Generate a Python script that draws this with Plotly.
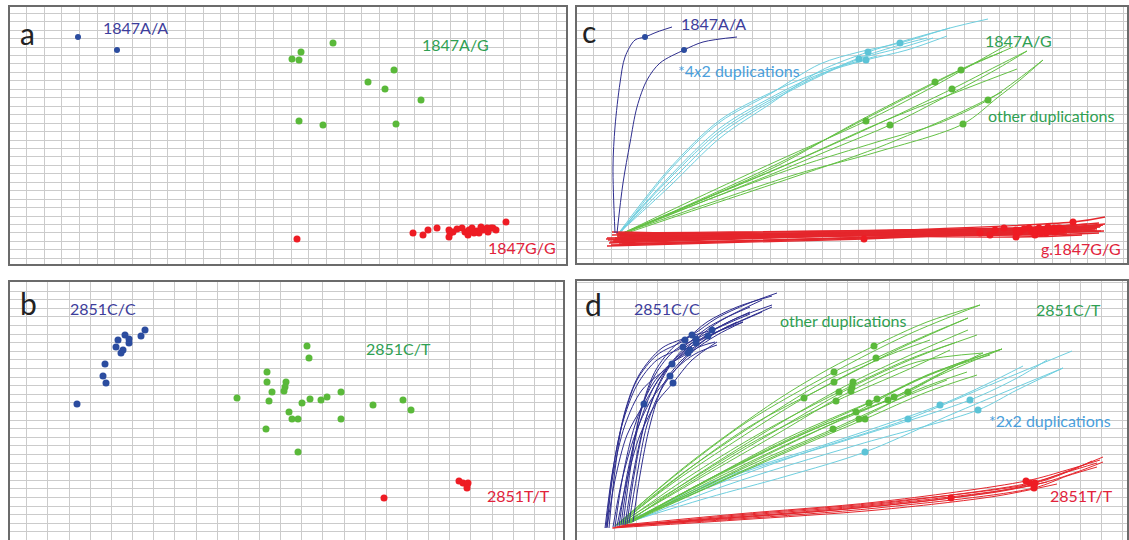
import plotly.graph_objects as go

W, H = 1129, 540

# ================= 1847 genotypes (panels a and c, shared signal units) =================
aa_x = [68, 107]
aa_y = [227, 214]
ag_dup_x = [282, 289, 291, 323]
ag_dup_y = [205, 204, 212, 221]
ag_oth_x = [358, 384, 375, 411, 289, 313, 386]
ag_oth_y = [182, 194, 175, 164, 143, 139, 140]
gg_x = [287, 403, 413, 418, 427, 439, 440, 439, 443, 452, 455, 458, 459, 462, 467, 469, 473, 477, 478, 481, 483, 496, 447, 464, 486, 471]
gg_y = [25, 31, 29, 34, 36, 34, 31, 27, 32, 36, 32, 29, 34, 36, 33, 31, 34, 36, 32, 36, 36, 42, 35, 31, 34, 37]

# amplification paths (points read before / after each end-point dot)
aa_pre = [[(38, 31), (36, 97), (38, 137), (43, 181), (48, 207), (58, 224)],
          [(40, 31), (46, 81), (53, 121), (60, 157), (70, 184), (83, 201)]]
aa_post = [[(80, 232), (95, 237)],
           [(126, 222), (160, 227)]]
ag_dup_pre = [[(41, 30), (93, 82), (143, 130), (193, 162), (243, 188)],
              [(40, 29), (93, 88), (143, 136), (193, 166), (243, 190)],
              [(41, 30), (93, 78), (143, 126), (193, 160), (243, 193)],
              [(42, 29), (93, 94), (143, 142), (193, 170), (243, 200), (282, 212)]]
ag_dup_post = [[(323, 216), (356, 226)],
               [(330, 214), (370, 228)],
               [(330, 224), (373, 236)],
               [(373, 236), (411, 245)]]
ag_dup_extra = [[(41, 30), (93, 96), (143, 144), (193, 171), (243, 192), (282, 203), (300, 208)],
                [(40, 29), (93, 86), (143, 133), (193, 164), (243, 189), (282, 206), (323, 219), (350, 226)]]
ag_oth_pre = [[(40, 28), (120, 62), (200, 98), (280, 142)],
              [(41, 28), (120, 63), (200, 100), (290, 146)],
              [(41, 29), (120, 62), (200, 95), (290, 135)],
              [(41, 29), (130, 64), (220, 97), (300, 122), (360, 140)],
              [(40, 28), (120, 66), (200, 103)],
              [(40, 28), (120, 60), (200, 92), (260, 117)],
              [(41, 29), (130, 60), (220, 90), (300, 112)]]
ag_oth_post = [[(400, 202), (425, 212)],
               [(420, 210), (436, 217)],
               [(420, 198), (450, 213)],
               [(440, 184), (466, 204)],
               [(350, 174), (405, 205), (430, 219)],
               [(370, 168), (420, 195), (450, 213)],
               [(420, 166), (443, 184), (466, 204)]]
ag_oth_extra = [[(40, 28), (130, 66), (220, 104), (300, 140), (380, 172), (440, 195)],
                [(41, 28), (130, 58), (220, 88), (300, 116), (380, 150), (425, 172)]]
gg_start = [(30, 18), (36, 24), (40, 28), (33, 22), (42, 30), (38, 26), (45, 20), (35, 32), (29, 25),
            (41, 27), (37, 23), (44, 29), (32, 21), (39, 31), (46, 26), (34, 19), (43, 28), (31, 24),
            (40, 30), (36, 22), (47, 27), (38, 25), (35, 29), (42, 20), (30, 26), (44, 23)]
gg_end = [(505, 34), (478, 34), (490, 31), (495, 38), (500, 39), (512, 37), (515, 33), (505, 29), (520, 36),
          (510, 40), (518, 35), (522, 31), (516, 37), (525, 39), (520, 36), (527, 33), (523, 37), (528, 40),
          (520, 34), (526, 39), (524, 38), (528, 47), (518, 38), (524, 33), (515, 36), (522, 41)]

# ================= 2851 genotypes (panels b and d) =================
cc_x = [67, 93, 96, 95, 106, 108, 111, 113, 115, 119, 119, 131, 135]
cc_y = [136, 164, 157, 176, 193, 200, 187, 190, 205, 201, 197, 204, 210]
ct_oth_x = [227, 257, 257, 262, 259, 256, 276, 275, 274, 279, 282, 288, 297, 299, 292, 300, 311, 317, 331]
ct_oth_y = [142, 168, 158, 148, 139, 111, 158, 153, 149, 128, 121, 121, 194, 182, 137, 141, 140, 143, 148]
ct_dup_x = [288, 331, 363, 393, 401]
ct_dup_y = [88, 121, 135, 140, 130]
tt_x = [374, 449, 453, 457, 458, 457]
tt_y = [42, 59, 57, 55, 57, 52]

cc_pre = [[(30, 12), (38, 60), (50, 105)],
          [(36, 13), (45, 60), (58, 105), (74, 140)],
          [(40, 14), (50, 60), (63, 105), (80, 138)],
          [(30, 13), (36, 65), (48, 115), (65, 150)],
          [(28, 12), (35, 65), (45, 115), (60, 155), (80, 180)],
          [(29, 12), (36, 70), (46, 120), (60, 160), (80, 185)],
          [(38, 13), (46, 65), (58, 115), (75, 155), (92, 175)],
          [(42, 14), (50, 65), (62, 115), (78, 155), (95, 177)],
          [(32, 12), (38, 70), (47, 125), (62, 165), (85, 192)],
          [(44, 15), (52, 70), (63, 125), (78, 165), (98, 190)],
          [(48, 15), (56, 65), (67, 115), (82, 155), (100, 183)],
          [(50, 16), (58, 70), (70, 125), (88, 168), (110, 194)],
          [(46, 15), (54, 75), (64, 130), (80, 172), (105, 200)]]
cc_post = [[(85, 165), (110, 190), (140, 212), (173, 228)],
           [(115, 188), (140, 205), (166, 218)],
           [(115, 180), (140, 198)],
           [(118, 200), (145, 220), (173, 233)],
           [(130, 212), (160, 228), (185, 240)],
           [(130, 218), (160, 233), (195, 244)],
           [(135, 205), (160, 218)],
           [(140, 208), (170, 222), (195, 233)],
           [(140, 222), (170, 236), (200, 247)],
           [(145, 214), (173, 226)],
           [(140, 208), (166, 218)],
           [(155, 215), (185, 228)],
           [(160, 222), (195, 235)]]
cc_extra = [[(56, 18), (63, 65), (73, 115), (86, 155), (103, 178), (120, 192), (138, 198)],
            [(52, 17), (60, 65), (70, 115), (84, 150), (100, 172), (118, 186), (140, 195)]]
ct_oth_pre = [[(40, 15), (100, 60), (160, 100)],
              [(38, 14), (100, 66), (170, 118)],
              [(42, 15), (100, 62), (170, 112)],
              [(44, 16), (110, 62), (180, 105)],
              [(40, 15), (110, 58), (180, 100)],
              [(45, 16), (110, 45), (180, 78)],
              [(48, 16), (120, 65), (200, 115)],
              [(46, 16), (120, 62), (200, 110)],
              [(43, 15), (120, 60), (200, 106)],
              [(50, 17), (120, 50), (200, 90)],
              [(47, 16), (120, 48), (200, 85)],
              [(52, 17), (130, 52), (210, 88)],
              [(40, 15), (110, 75), (200, 140), (250, 170)],
              [(38, 14), (110, 70), (200, 130), (250, 160)],
              [(55, 18), (130, 60), (210, 100)],
              [(50, 17), (130, 60), (210, 102)],
              [(53, 17), (140, 62), (230, 105)],
              [(49, 16), (140, 64), (230, 108)],
              [(51, 17), (140, 65), (240, 112)]]
ct_oth_post = [[(300, 180), (353, 200)],
               [(330, 205), (403, 235)],
               [(330, 195), (391, 222)],
               [(330, 180), (380, 198)],
               [(330, 170), (373, 190)],
               [(320, 140), (370, 160)],
               [(340, 188), (391, 210)],
               [(340, 183), (400, 205)],
               [(340, 178), (406, 187)],
               [(340, 160), (390, 180)],
               [(340, 150), (390, 168)],
               [(350, 148), (400, 165)],
               [(350, 218), (403, 235)],
               [(350, 205), (391, 222)],
               [(350, 165), (425, 191)],
               [(360, 168), (413, 185)],
               [(370, 168), (425, 191)],
               [(370, 170), (406, 187)],
               [(380, 175), (425, 191)]]
ct_dup_pre = [[(45, 16), (130, 42), (210, 64)],
              [(48, 17), (130, 52), (230, 88)],
              [(46, 16), (140, 60), (250, 96)],
              [(50, 17), (150, 62), (270, 100)],
              [(52, 17), (150, 55), (280, 95)]]
ct_dup_post = [[(380, 128), (486, 172)],
               [(420, 158), (495, 189)],
               [(410, 156), (446, 174)],
               [(440, 162), (470, 180)],
               [(440, 150), (486, 172)]]
tt_pre = [[(40, 13), (150, 22), (260, 30)],
          [(45, 15), (160, 26), (300, 38)],
          [(35, 12), (160, 24), (300, 36)],
          [(50, 15), (160, 23), (300, 35)],
          [(38, 13), (160, 25), (300, 37)],
          [(48, 14), (160, 21), (300, 32)]]
tt_post = [[(450, 55), (526, 83)],
           [(490, 70), (523, 80)],
           [(490, 68), (520, 77)],
           [(500, 68), (526, 78)],
           [(495, 70), (515, 79)],
           [(490, 64), (520, 73)]]
tt_extra = [[(42, 14), (160, 22), (300, 34), (420, 48), (470, 58)],
            [(36, 12), (160, 20), (300, 30), (420, 44), (480, 56)]]

# ================= styling =================
NAVY_LINE = "#2e2e8e"
BLUE_DOT = "#2b4c9f"
GREEN_LINE = "#64c145"
GREEN_DOT = "#5ab93a"
CYAN_LINE = "#6fcfdf"
CYAN_DOT = "#5cc3d6"
RED_LINE = "#e5262c"
RED_DOT = "#ee1c24"
LBL_NAVY = "#3d3d9b"
LBL_GREEN = "#2fa052"
LBL_RED = "#e2233b"
LBL_CYAN = "#4b9fdc"
GRID = "#cbcbcb"
BORDER = "#6b6b6b"
FONT = "Lato"

fig = go.Figure()


def curve(pts_pre, dx, dy, pts_post, color, ax, width=1.0):
    xs = [p[0] for p in pts_pre] + ([dx] if dx is not None else []) + [p[0] for p in pts_post]
    ys = [p[1] for p in pts_pre] + ([dy] if dy is not None else []) + [p[1] for p in pts_post]
    fig.add_trace(go.Scatter(x=xs, y=ys, mode="lines", xaxis="x" + ax, yaxis="y" + ax,
                             line=dict(color=color, width=width, shape="spline", smoothing=0.9),
                             hoverinfo="skip", showlegend=False))


def dots(xs, ys, color, ax, size=7):
    fig.add_trace(go.Scatter(x=xs, y=ys, mode="markers", xaxis="x" + ax, yaxis="y" + ax,
                             marker=dict(color=color, size=size, line=dict(width=0)),
                             hoverinfo="skip", showlegend=False))


# ---- panel a (axis "") ----
dots(aa_x, aa_y, BLUE_DOT, "", 6)
dots(ag_dup_x, ag_dup_y, GREEN_DOT, "")
dots(ag_oth_x, ag_oth_y, GREEN_DOT, "")
dots(gg_x, gg_y, RED_DOT, "")

# ---- panel b (axis "2") ----
dots(cc_x, cc_y, BLUE_DOT, "2")
dots(ct_oth_x, ct_oth_y, GREEN_DOT, "2")
dots(ct_dup_x, ct_dup_y, GREEN_DOT, "2")
dots(tt_x, tt_y, RED_DOT, "2")

# ---- panel c (axis "3") ----
for i in range(len(ag_oth_x)):
    curve(ag_oth_pre[i], ag_oth_x[i], ag_oth_y[i], ag_oth_post[i], GREEN_LINE, "3")
for ex in ag_oth_extra:
    curve(ex, None, None, [], GREEN_LINE, "3")
for i in range(len(ag_dup_x)):
    curve(ag_dup_pre[i], ag_dup_x[i], ag_dup_y[i], ag_dup_post[i], CYAN_LINE, "3")
for ex in ag_dup_extra:
    curve(ex, None, None, [], CYAN_LINE, "3")
for i in range(len(gg_x)):
    curve([gg_start[i]], gg_x[i], gg_y[i], [gg_end[i]], RED_LINE, "3", 1.3)
for i in range(len(aa_x)):
    curve(aa_pre[i], aa_x[i], aa_y[i], aa_post[i], NAVY_LINE, "3")
dots(aa_x, aa_y, BLUE_DOT, "3", 6)
dots(ag_dup_x, ag_dup_y, CYAN_DOT, "3")
dots(ag_oth_x, ag_oth_y, GREEN_DOT, "3")
dots(gg_x, gg_y, RED_DOT, "3")

# ---- panel d (axis "4") ----
for i in range(len(tt_x)):
    curve(tt_pre[i], tt_x[i], tt_y[i], tt_post[i], RED_LINE, "4")
for ex in tt_extra:
    curve(ex, None, None, [], RED_LINE, "4")
for i in range(len(ct_dup_x)):
    curve(ct_dup_pre[i], ct_dup_x[i], ct_dup_y[i], ct_dup_post[i], CYAN_LINE, "4")
for i in range(len(ct_oth_x)):
    curve(ct_oth_pre[i], ct_oth_x[i], ct_oth_y[i], ct_oth_post[i], GREEN_LINE, "4")
for i in range(len(cc_x)):
    curve(cc_pre[i], cc_x[i], cc_y[i], cc_post[i], NAVY_LINE, "4")
for ex in cc_extra:
    curve(ex, None, None, [], NAVY_LINE, "4")
dots(cc_x, cc_y, BLUE_DOT, "4")
dots(ct_oth_x, ct_oth_y, GREEN_DOT, "4")
dots(ct_dup_x, ct_dup_y, CYAN_DOT, "4")
dots(tt_x, tt_y, RED_DOT, "4")


# ---- axes ----
def px_dom_x(l, r):
    return [l / W, r / W]


def px_dom_y(t, b):
    return [max(0, 1 - b / H), 1 - t / H]


def xax(dom, rng, t0, dt, anchor, side="bottom", mirror=True):
    return dict(domain=dom, range=rng, anchor=anchor, side=side, tickmode="linear", tick0=t0, dtick=dt,
                showgrid=True, gridcolor=GRID, gridwidth=1, zeroline=False, showticklabels=False,
                ticks="", showline=True, linecolor=BORDER, linewidth=1.5, mirror=mirror, fixedrange=True)


def yax(dom, rng, t0, dt, anchor):
    return dict(domain=dom, range=rng, anchor=anchor, tickmode="linear", tick0=t0, dtick=dt,
                showgrid=True, gridcolor=GRID, gridwidth=1, zeroline=False, showticklabels=False,
                ticks="", showline=True, linecolor=BORDER, linewidth=1.5, mirror=True, fixedrange=True)


layout = dict(
    width=W, height=H, margin=dict(l=0, r=0, t=0, b=0),
    paper_bgcolor="white", plot_bgcolor="white", showlegend=False, hovermode=False,
    xaxis=xax(px_dom_x(10, 566), [0, 556], 16.5, 17.65, "y"),
    yaxis=yax(px_dom_y(7, 264), [0, 257], 5.7, 8.45, "x"),
    xaxis2=xax(px_dom_x(10, 563), [0, 553], 16.8, 21.15, "y2", side="top", mirror=False),
    yaxis2=yax(px_dom_y(282, 540), [0, 258], 8.1, 8.6, "x2"),
    xaxis3=xax(px_dom_x(577, 1127), [0, 550], 16.5, 17.65, "y3"),
    yaxis3=yax(px_dom_y(7, 263), [1, 257], 5.7, 8.45, "x3"),
    xaxis4=xax(px_dom_x(577, 1127), [0, 550], 16.8, 21.15, "y4", side="top", mirror=False),
    yaxis4=yax(px_dom_y(281, 540), [0, 259], 8.1, 8.6, "x4"),
)
fig.update_layout(**layout)


def label(text, px, py, color, size=16):
    fig.add_annotation(text=text, x=px / W, y=1 - py / H, xref="paper", yref="paper",
                       xanchor="center", yanchor="middle", showarrow=False,
                       font=dict(family=FONT, size=size, color=color))


# panel letters
label("a", 27, 33, "#222222", 30)
label("b", 28, 303, "#222222", 30)
label("c", 589, 31, "#222222", 30)
label("d", 593, 304, "#222222", 30)

label("1847A/A", 135, 28, LBL_NAVY)
label("1847A/G", 455, 44, LBL_GREEN)
label("1847G/G", 522, 247, LBL_RED)
label("2851C/C", 103, 308, LBL_NAVY)
label("2851C/T", 398, 348, LBL_GREEN)
label("2851T/T", 518, 495, LBL_RED)

label("1847A/A", 713, 24, LBL_NAVY)
label("*4<i>x</i>2 duplications", 739, 70, LBL_CYAN)
label("1847A/G", 1018, 40, LBL_GREEN)
label("other duplications", 1051, 116, LBL_GREEN)
label("g.1847G/G", 1081, 248, LBL_RED)

label("2851C/C", 667, 308, LBL_NAVY)
label("other duplications", 843, 320, LBL_GREEN)
label("2851C/T", 1068, 309, LBL_GREEN)
label("*2<i>x</i>2 duplications", 1050, 420, LBL_CYAN)
label("2851T/T", 1081, 495, LBL_RED)

# the page body has a default 8px margin; remove it so the figure sits at the window origin
fig.write_html("out.html", config={"displayModeBar": False},
               post_script="document.body.style.margin='0px';")
